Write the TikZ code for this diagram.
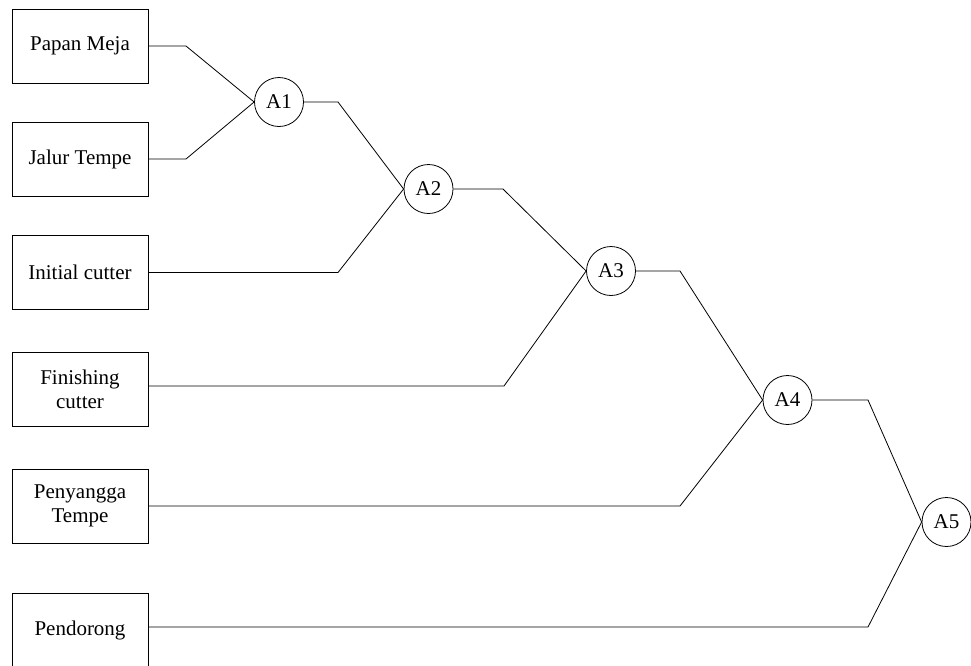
\documentclass[tikz,border=0pt]{standalone}
\usepackage{fontspec}
\setmainfont{Liberation Serif}
\begin{document}
\begin{tikzpicture}[x=1pt,y=-1pt,
  part/.style={draw,line width=0.8pt,minimum width=136pt,minimum height=74pt,inner sep=0pt,
    align=center,font=\fontsize{21}{24}\selectfont},
  asm/.style={draw,circle,line width=0.8pt,minimum size=49pt,inner sep=0pt,
    font=\fontsize{21}{24}\selectfont},
  link/.style={line width=0.8pt}]
\useasboundingbox (0,0) rectangle (971,665);
% component boxes
\node[part] (p1) at (80,46) {Papan Meja};
\node[part] (p2) at (80,159) {Jalur Tempe};
\node[part] (p3) at (80,272.5) {Initial cutter};
\node[part] (p4) at (80,389) {Finishing\\cutter};
\node[part] (p5) at (80,506) {Penyangga\\Tempe};
\node[part] (p6) at (80,630) {Pendorong};
% assembly stages
\node[asm] (a1) at (279,102) {A1};
\node[asm] (a2) at (428.5,189) {A2};
\node[asm] (a3) at (611,271) {A3};
\node[asm] (a4) at (787.5,400) {A4};
\node[asm] (a5) at (946.5,522) {A5};
% bend points
\coordinate (k1) at (186,46);
\coordinate (k2) at (186,159);
\coordinate (k3) at (338,102);
\coordinate (k4) at (338,272.5);
\coordinate (k5) at (503,189);
\coordinate (k6) at (504,386);
\coordinate (k7) at (680,271);
\coordinate (k8) at (680,506);
\coordinate (k9) at (868,400);
\coordinate (k10) at (868,627);
% connectors
\draw[link] (p1.east |- k1) -- (k1) -- (a1.west);
\draw[link] (p2.east |- k2) -- (k2) -- (a1.west);
\draw[link] (a1.east) -- (k3) -- (a2.west);
\draw[link] (p3.east |- k4) -- (k4) -- (a2.west);
\draw[link] (a2.east) -- (k5) -- (a3.west);
\draw[link] (p4.east |- k6) -- (k6) -- (a3.west);
\draw[link] (a3.east) -- (k7) -- (a4.west);
\draw[link] (p5.east |- k8) -- (k8) -- (a4.west);
\draw[link] (a4.east) -- (k9) -- (a5.west);
\draw[link] (p6.east |- k10) -- (k10) -- (a5.west);
\end{tikzpicture}
\end{document}
